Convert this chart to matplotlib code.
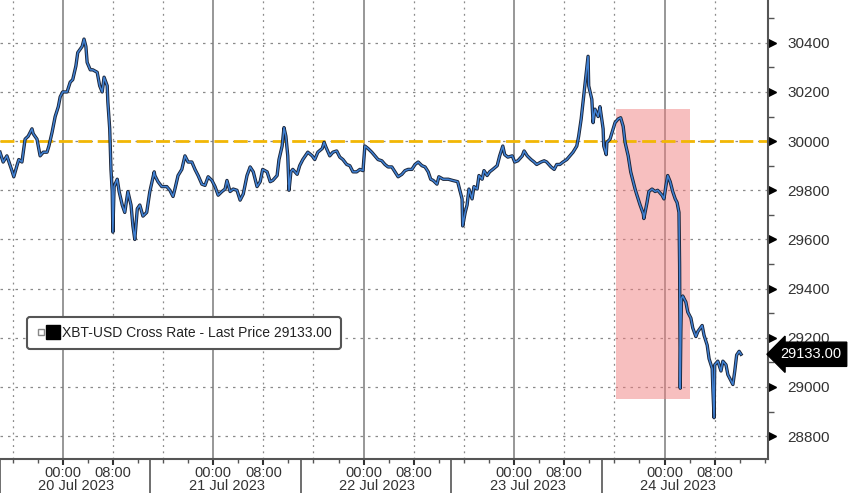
import matplotlib
matplotlib.use("Agg")

import numpy as np
import pandas as pd
import matplotlib.pyplot as plt
import matplotlib.dates as mdates
from matplotlib.patches import Rectangle
from matplotlib.lines import Line2D
from matplotlib.legend_handler import HandlerTuple
from matplotlib.transforms import ScaledTranslation, blended_transform_factory

plt.rcParams['font.family'] = ['Liberation Sans', 'DejaVu Sans']

# hours after 19 Jul 2023 14:00 and XBT-USD price
START = pd.Timestamp("2023-07-19 14:00")
hours = [0.0, 0.5, 1.1, 1.9, 2.2, 2.7, 3.0, 3.5, 4.0, 4.5, 5.1, 5.3, 5.9, 6.4, 6.9, 7.5, 7.8,
         8.3, 8.8, 9.3, 9.6, 10.0, 10.7, 11.2, 11.6, 12.1, 12.4, 13.1, 13.4, 13.7, 13.9, 14.4,
         14.8, 15.5, 15.9, 16.3, 16.6, 17.1, 17.2, 17.5, 17.7, 17.9, 18.0, 18.2, 18.7, 19.0,
         19.5, 19.9, 20.4, 20.9, 21.2, 21.5, 21.9, 22.3, 22.8, 23.4, 23.9, 24.6, 24.7, 25.2,
         25.8, 26.6, 27.1, 27.6, 27.9, 28.4, 29.0, 29.5, 30.0, 30.6, 31.1, 31.6, 32.2, 32.7,
         33.2, 33.8, 34.3, 34.8, 35.4, 35.9, 36.2, 36.7, 37.2, 37.8, 38.3, 38.8, 39.4, 39.9,
         40.4, 41.0, 41.5, 41.9, 42.6, 43.1, 43.5, 44.2, 44.5, 45.0, 45.3, 45.6, 45.9, 46.1,
         46.4, 46.7, 47.4, 47.8, 48.3, 49.1, 49.8, 50.2, 50.7, 51.4, 51.7, 52.0, 52.6, 53.1,
         53.7, 54.2, 54.7, 55.3, 55.8, 56.3, 56.9, 57.4, 57.9, 58.2, 58.7, 59.3, 59.8, 60.3,
         60.9, 61.4, 61.9, 62.5, 63.0, 63.5, 64.1, 64.6, 65.1, 65.7, 66.2, 66.7, 67.3, 67.8,
         68.3, 68.7, 69.1, 69.7, 70.0, 70.7, 71.5, 72.2, 73.0, 73.7, 73.8, 74.2, 74.5, 74.8,
         75.3, 75.6, 76.1, 76.4, 76.9, 77.2, 77.7, 78.1, 78.6, 79.3, 79.7, 80.2, 80.5, 81.0,
         81.7, 82.1, 82.6, 83.3, 83.6, 84.1, 84.7, 85.2, 85.6, 86.3, 86.8, 87.2, 87.9, 88.4,
         88.8, 89.3, 89.8, 90.4, 90.9, 91.4, 92.0, 92.3, 92.7, 93.0, 93.1, 93.5, 93.8, 93.9,
         94.4, 94.6, 94.9, 95.4, 95.7, 96.2, 96.3, 96.7, 96.8, 97.3, 97.8, 98.1, 98.6, 99.0,
         99.4, 99.7, 100.2, 100.6, 101.0, 101.3, 101.6, 102.1, 102.6, 102.7, 103.2, 103.5,
         104.0, 104.5, 104.9, 105.6, 105.9, 106.2, 106.5, 106.9, 107.3, 107.7, 108.0, 108.3,
         108.4, 108.5, 108.6, 108.7, 108.9, 109.4, 109.7, 110.2, 110.5, 111.0, 111.3, 112.0,
         112.3, 112.8, 113.1, 113.6, 113.7, 113.9, 114.0, 114.5, 115.0, 115.3, 115.8, 116.1,
         116.6, 116.9, 117.2, 117.5, 117.9, 118.2]
price = [29955, 29915, 29940, 29880, 29855, 29900, 29925, 29915, 30008, 30020, 30050, 30030,
         30008, 29940, 29955, 29955, 29980, 30035, 30100, 30140, 30180, 30200, 30200, 30240,
         30250, 30305, 30360, 30385, 30415, 30385, 30320, 30290, 30290, 30280, 30225, 30200,
         30260, 30225, 30160, 30050, 29885, 29795, 29630, 29815, 29845, 29795, 29740, 29710,
         29795, 29740, 29655, 29600, 29725, 29740, 29695, 29710, 29795, 29875, 29860, 29835,
         29815, 29815, 29800, 29775, 29805, 29860, 29885, 29940, 29915, 29915, 29885, 29860,
         29825, 29820, 29855, 29840, 29815, 29780, 29795, 29805, 29840, 29795, 29805, 29800,
         29760, 29785, 29860, 29895, 29875, 29815, 29835, 29885, 29875, 29835, 29840, 29860,
         29925, 29980, 30055, 30020, 29940, 29800, 29875, 29885, 29865, 29900, 29925, 29955,
         29940, 29925, 29955, 29970, 29995, 29975, 29940, 29955, 29960, 29935, 29925, 29905,
         29900, 29875, 29875, 29885, 29880, 29980, 29970, 29955, 29940, 29925, 29920, 29905,
         29895, 29895, 29875, 29855, 29865, 29880, 29885, 29885, 29905, 29915, 29900, 29895,
         29875, 29845, 29840, 29825, 29855, 29845, 29845, 29840, 29835, 29765, 29655, 29710,
         29740, 29805, 29765, 29815, 29805, 29860, 29845, 29880, 29860, 29875, 29885, 29900,
         29940, 29980, 29945, 29935, 29940, 29915, 29920, 29940, 29960, 29940, 29925, 29915,
         29905, 29915, 29920, 29915, 29895, 29885, 29905, 29905, 29915, 29925, 29940, 29955,
         29980, 30020, 30090, 30160, 30185, 30280, 30345, 30225, 30170, 30075, 30130, 30100,
         30140, 30050, 29980, 29945, 29995, 30008, 30050, 30075, 30090, 30095, 30060, 29995,
         29940, 29875, 29835, 29805, 29780, 29740, 29705, 29685, 29750, 29795, 29805, 29795,
         29800, 29780, 29765, 29815, 29860, 29835, 29795, 29765, 29750, 29710, 29495, 28995,
         29225, 29360, 29370, 29345, 29305, 29280, 29240, 29205, 29225, 29250, 29210, 29170,
         29115, 29075, 28995, 28875, 29090, 29105, 29065, 29105, 29090, 29050, 29025, 29010,
         29065, 29130, 29145, 29133]

last_price = 29133.00
level = 30000
shade_start, shade_end = "2023-07-23 16:15", "2023-07-24 04:00"
shade_low, shade_high = 28950, 30130
days = ["2023-07-20", "2023-07-21", "2023-07-22", "2023-07-23", "2023-07-24"]
day_labels = ["20 Jul 2023", "21 Jul 2023", "22 Jul 2023", "23 Jul 2023", "24 Jul 2023"]
legend_label = "XBT-USD Cross Rate - Last Price 29133.00"

times = START + pd.to_timedelta(hours, unit="h")

fig = plt.figure(figsize=(8.48, 4.93), dpi=100)
ax = fig.add_axes([0.0, 34 / 493, 768 / 848, 459 / 493])

ax.set_xlim(START, START + pd.Timedelta(hours=122.5))
ax.set_ylim(28707, 30574)

# grid
yt = np.arange(28800, 30401, 200)
for y in yt:
    ax.axhline(y, color="#8a8a8a", lw=0.9, ls=(0, (2, 4)), zorder=0)
for d in days:
    d0 = pd.Timestamp(d)
    ax.axvline(d0, color="#7a7a7a", lw=1.1, zorder=0)
    for h in (-8, 8):
        ax.axvline(d0 + pd.Timedelta(hours=h), color="#8a8a8a", lw=0.9, ls=(0, (1.5, 3.5)), zorder=0)

# shaded region
x0 = mdates.date2num(pd.Timestamp(shade_start))
x1 = mdates.date2num(pd.Timestamp(shade_end))
ax.add_patch(Rectangle((x0, shade_low), x1 - x0, shade_high - shade_low,
                       facecolor="#f08080", alpha=0.5, edgecolor="none", zorder=1))

ax.axhline(level, color="#f2b705", lw=2.0, ls=(0, (5, 2)), zorder=2)

ax.plot(times, price, color="#1a2438", lw=2.4, zorder=3)
ax.plot(times, price, color="#3f80d2", lw=1.1, zorder=4)

# spines
for s in ("top", "left"):
    ax.spines[s].set_visible(False)
for s in ("right", "bottom"):
    ax.spines[s].set_color("#555555")
    ax.spines[s].set_linewidth(1.5)

# y axis on the right
ax.yaxis.tick_right()
ax.set_yticks(yt)
ax.set_yticks(np.arange(28800, 30501, 100), minor=True)
ax.tick_params(axis="y", which="major", length=0, pad=14, labelsize=11, labelcolor="#333333")
ax.tick_params(axis="y", which="minor", length=4, width=1, color="#555555")
tri = ax.get_yaxis_transform() + ScaledTranslation(4 / 100, 0, fig.dpi_scale_trans)
ax.plot(np.ones(len(yt)), yt, ls="none", marker=">", ms=6, color="black",
        transform=tri, clip_on=False)

# x axis
ax.xaxis.set_major_locator(mdates.HourLocator(byhour=[0, 8]))
ax.xaxis.set_minor_locator(mdates.HourLocator(byhour=range(0, 24, 4)))
ax.xaxis.set_major_formatter(mdates.DateFormatter("%H:%M"))
ax.tick_params(axis="x", which="major", length=4, width=1.5, color="#333333", pad=1,
               labelsize=10.5, labelcolor="#333333")
ax.tick_params(axis="x", which="minor", length=3, width=1, color="#555555")

bt = blended_transform_factory(ax.transData, ax.transAxes)
for i, d in enumerate(days):
    sep = mdates.date2num(pd.Timestamp(d) - pd.Timedelta(hours=10))
    ax.plot([sep, sep], [0, -0.08], color="#555555", lw=1.2, transform=bt, clip_on=False)
    mid = mdates.date2num(pd.Timestamp(d) + pd.Timedelta(hours=2.2))
    ax.text(mid, -0.059, day_labels[i], transform=bt, ha="center", va="center",
            fontsize=10.5, color="#333333")

# legend box
icon = (Line2D([], [], ls="none", marker="s", ms=5, mfc="white", mec="#888888", mew=1),
        Line2D([], [], ls="none", marker="s", ms=10, color="black"))
leg = ax.legend([icon], [legend_label], loc="center left", bbox_to_anchor=(0.035, 0.2745),
                borderaxespad=0, fontsize=10, handler_map={tuple: HandlerTuple(ndivide=None, pad=0.2)},
                handlelength=1.6, handletextpad=0.3, borderpad=0.65, fancybox=True,
                framealpha=1, edgecolor="#555555")
leg.get_frame().set_linewidth(1.5)
for t in leg.get_texts():
    t.set_color("#222222")

# last price tag
ax.annotate(f"{last_price:.2f}", xy=(1.0, last_price), xycoords=("axes fraction", "data"),
            xytext=(9, 0), textcoords="offset points", ha="left", va="center",
            fontsize=10.5, color="white",
            bbox=dict(boxstyle="larrow,pad=0.35", fc="black", ec="black"))

fig.savefig("out.png", dpi=100)
